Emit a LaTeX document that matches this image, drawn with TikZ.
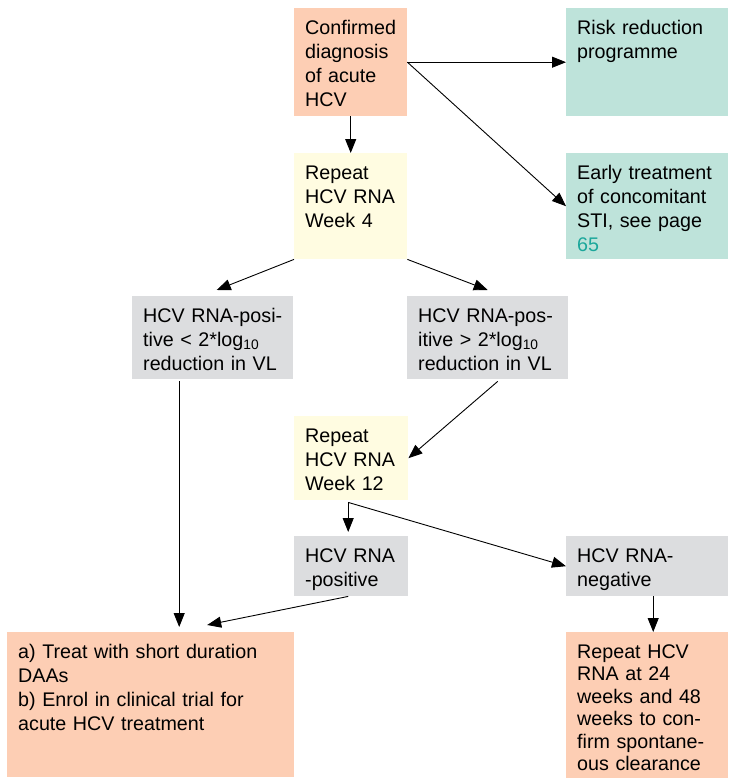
\documentclass[tikz,border=0pt]{standalone}
\usepackage{fontspec}
\setmainfont{Liberation Sans}
\usetikzlibrary{arrows.meta}
\definecolor{salmonfill}{HTML}{FDCEB4}
\definecolor{tealfill}{HTML}{BEE3DA}
\definecolor{creamfill}{HTML}{FFFCE1}
\definecolor{greyfill}{HTML}{DCDDDF}
\definecolor{linkteal}{HTML}{1BA79B}
\newcommand{\flowfont}{\fontsize{19.7}{24}\selectfont}
\tikzset{
  box/.style={anchor=north west, inner xsep=11pt, inner ysep=0pt, text height=26pt, align=left, font=\flowfont},
  arr/.style={-{Triangle[length=14pt,width=11pt]}, line width=0.9pt}
}
\begin{document}
\begin{tikzpicture}[x=1pt,y=-1pt]
\useasboundingbox[fill=white] (0,0) rectangle (728,784);
\node[box, fill=salmonfill, text width=91pt, text depth=82pt] (diag) at (294,8) {Confirmed\\diagnosis\\of acute\\HCV};
\node[box, fill=tealfill, text width=140pt, text depth=82pt] (risk) at (566,8) {Risk reduction\\programme};
\node[box, fill=creamfill, text width=91pt, text depth=80pt] (wk4) at (294,153) {Repeat\\HCV RNA\\Week 4};
\node[box, fill=tealfill, text width=140pt, text depth=80pt] (sti) at (566,153) {Early treatment\\of concomitant\\STI, see page\\\textcolor{linkteal}{65}};
\node[box, fill=greyfill, text width=139pt, text depth=57pt] (lowred) at (132,296) {\mbox{HCV RNA-posi-}\\tive < 2*log\textsubscript{10}\\reduction in VL};
\node[box, fill=greyfill, text width=139pt, text depth=57pt] (highred) at (407,296) {\mbox{HCV RNA-pos-}\\itive > 2*log\textsubscript{10}\\reduction in VL};
\node[box, fill=creamfill, text width=92pt, text depth=58pt] (wk12) at (294,416) {Repeat\\HCV RNA\\Week 12};
\node[box, fill=greyfill, text width=92pt, text depth=34pt] (rnapos) at (294,536) {HCV RNA\\-positive};
\node[box, fill=greyfill, text width=140pt, text depth=34pt] (rnaneg) at (566,536) {HCV RNA-\\negative};
\node[box, fill=salmonfill, text width=265pt, text depth=119pt] (treat) at (7,632) {a) Treat with short duration\\DAAs\\b) Enrol in clinical trial for\\acute HCV treatment};
\node[box, fill=salmonfill, text width=140pt, text depth=120pt, font=\fontsize{19.7}{22.5}\selectfont] (clear) at (566,632) {Repeat HCV\\RNA at 24\\weeks and 48\\weeks to con-\\firm spontane-\\ous clearance};
\draw[arr] (diag.south) -- (wk4.north);
\draw[arr] (diag.east) -- (risk.west);
\draw[arr] (diag.east) -- (sti.west);
\draw[arr] (wk4.south west) -- ([xshift=4pt,yshift=6pt]lowred.north);
\draw[arr] (wk4.south east) -- ([yshift=6pt]highred.north);
\draw[arr] ([xshift=10pt,yshift=-2pt]highred.south) -- (wk12.east);
\draw[arr] ([xshift=-3pt,yshift=-2pt]wk12.south) -- ([xshift=-3pt,yshift=4pt]rnapos.north);
\draw[arr] ([xshift=-3pt,yshift=-2pt]wk12.south) -- (rnaneg.west);
\draw[arr] ([xshift=-33.5pt,yshift=-2pt]lowred.south) -- ([xshift=28.5pt,yshift=5pt]treat.north);
\draw[arr] ([xshift=-3pt]rnapos.south) -- ([xshift=56.5pt,yshift=7pt]treat.north);
\draw[arr] ([xshift=6pt]rnaneg.south) -- ([xshift=6pt]clear.north);
\end{tikzpicture}
\end{document}
